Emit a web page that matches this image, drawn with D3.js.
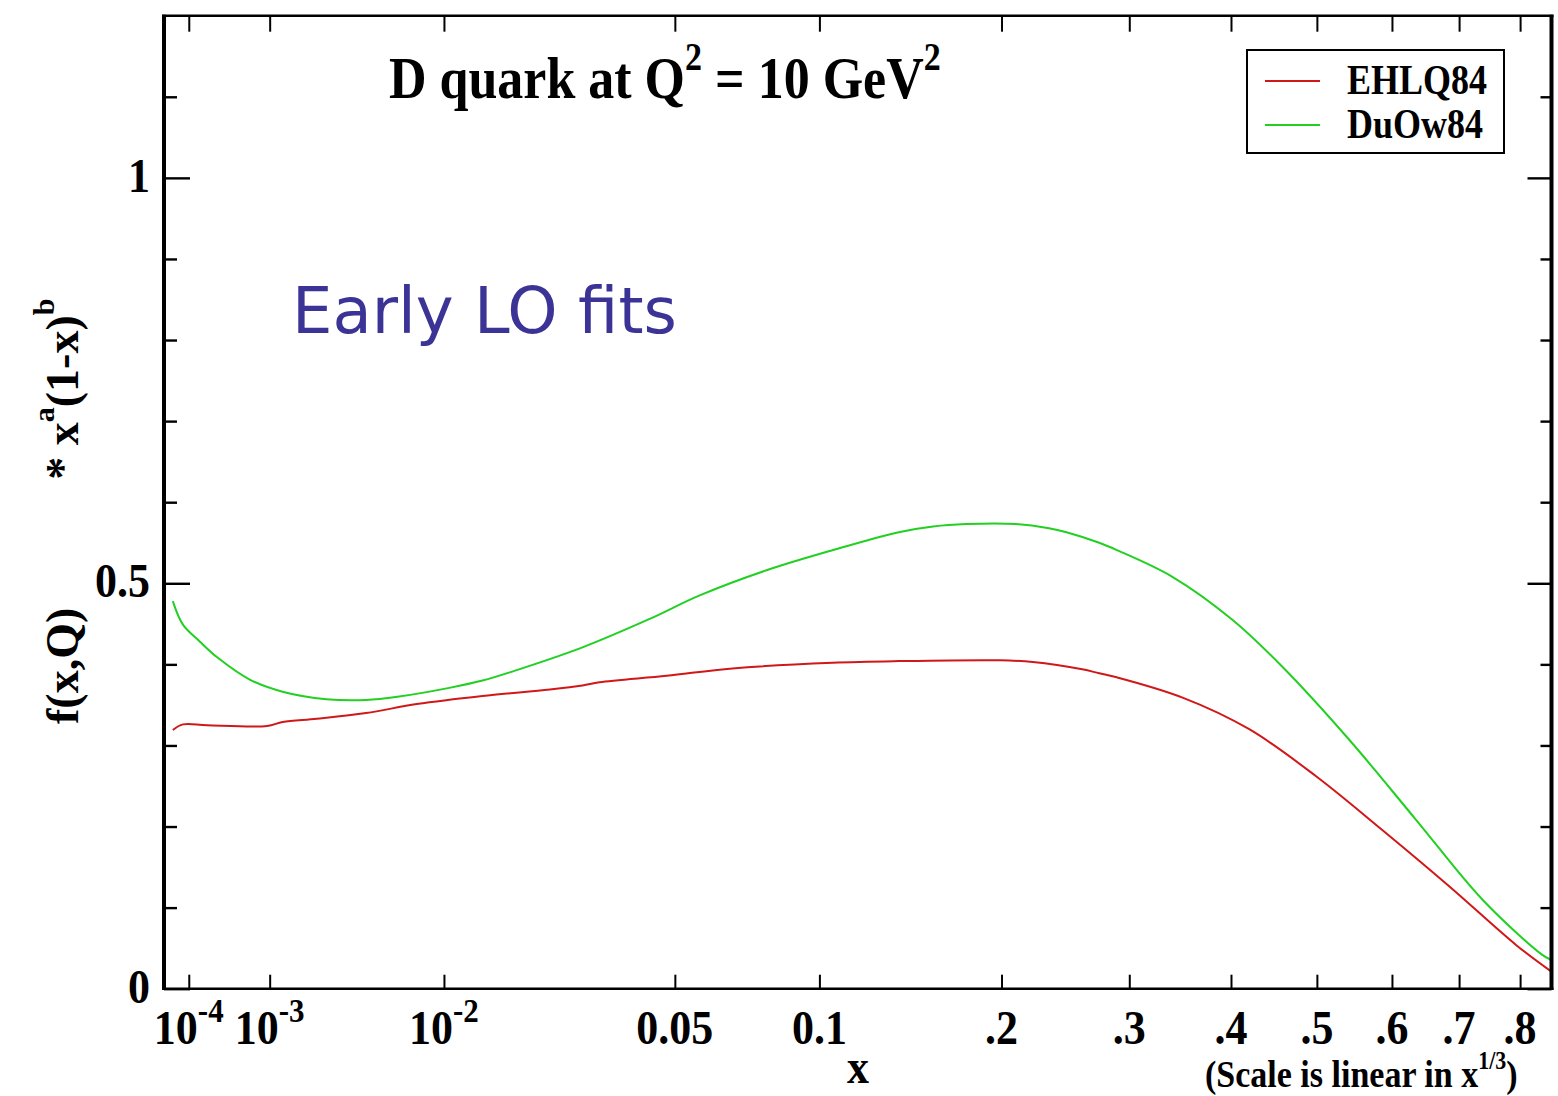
<!DOCTYPE html>
<html>
<head>
<meta charset="utf-8">
<script src="https://cdn.jsdelivr.net/npm/d3@7"></script>
<style>
  html, body { margin: 0; padding: 0; background: #fff; }
  svg { display: block; }
  .serif { font-family: "Liberation Serif", "Times New Roman", serif; font-weight: bold; fill: #000; }
</style>
</head>
<body>
<svg id="chart" width="1558" height="1096"></svg>
<script>
// Parton density x-grid (momentum fraction) and the two LO fits
const xEHLQ = [4.6e-5, 7.7e-5, 2.0e-4, 9.5e-4, 1.28e-3, 2.26e-3, 4.4e-3, 7.7e-3,
  0.014, 0.0233, 0.029, 0.0323, 0.0478, 0.0672, 0.1057, 0.138, 0.199, 0.222, 0.26, 0.274,
  0.289, 0.35, 0.42, 0.499, 0.586, 0.685, 0.793, 0.853];
const yEHLQ = [0.319, 0.326, 0.325, 0.324, 0.329, 0.333, 0.340, 0.351,
  0.361, 0.369, 0.374, 0.378, 0.386, 0.395, 0.402, 0.404, 0.405, 0.403, 0.394, 0.389,
  0.384, 0.359, 0.320, 0.262, 0.196, 0.126, 0.054, 0.022];

const xDuOw = [4.6e-5, 7.7e-5, 1.56e-4, 2.75e-4, 6.6e-4, 1.3e-3, 2.6e-3, 4.4e-3, 6.3e-3, 0.0105,
  0.014, 0.018, 0.029, 0.0435, 0.057, 0.079, 0.106, 0.138, 0.157, 0.177, 0.21, 0.234,
  0.2475, 0.274, 0.289, 0.34, 0.4015, 0.458, 0.5416, 0.635, 0.737, 0.838, 0.853];
const yDuOw = [0.478, 0.449, 0.428, 0.409, 0.381, 0.366, 0.357, 0.356, 0.360, 0.371,
  0.380, 0.392, 0.421, 0.456, 0.485, 0.516, 0.541, 0.563, 0.570, 0.573, 0.573, 0.568,
  0.563, 0.550, 0.541, 0.508, 0.455, 0.397, 0.307, 0.208, 0.110, 0.042, 0.036];

const seriesNames = ["EHLQ84", "DuOw84"];
const seriesColors = ["#d01818", "#22d022"];

// Axis ticks: x is drawn linear in x^(1/3)
const xTickValues = [1e-4, 1e-3, 1e-2, 0.05, 0.1, 0.2, 0.3, 0.4, 0.5, 0.6, 0.7, 0.8];
const xTickLabels = ["10^-4", "10^-3", "10^-2", "0.05", "0.1", ".2", ".3", ".4", ".5", ".6", ".7", ".8"];
const yMajorTicks = [0, 0.5, 1];
const yMajorLabels = ["0", "0.5", "1"];
const yMinorTicks = [0.1, 0.2, 0.3, 0.4, 0.6, 0.7, 0.8, 0.9, 1.1];

const svg = d3.select("#chart");
const L = 164, R = 1551.5, T = 15.7, B = 988.7;

const x = d3.scalePow().exponent(1 / 3).domain([2.7e-5, 0.855]).range([L, R]);
const y = d3.scaleLinear().domain([0, 1.2]).range([B, T]);

// Curves
const line = d3.line()
  .x(d => x(d[0]))
  .y(d => y(d[1]))
  .curve(d3.curveCatmullRom.alpha(0.5));

const curves = [d3.zip(xEHLQ, yEHLQ), d3.zip(xDuOw, yDuOw)];
svg.append("g").selectAll("path")
  .data(curves)
  .join("path")
  .attr("d", line)
  .attr("fill", "none")
  .attr("stroke", (d, i) => seriesColors[i])
  .attr("stroke-width", 2)
  .attr("stroke-linejoin", "round");

// Frame
const frame = svg.append("g").attr("stroke", "#000");
frame.append("line").attr("x1", L - 2).attr("x2", R + 2).attr("y1", T).attr("y2", T).attr("stroke-width", 2.6);
frame.append("line").attr("x1", L - 2).attr("x2", R + 2).attr("y1", B).attr("y2", B).attr("stroke-width", 2.6);
frame.append("line").attr("x1", L).attr("x2", L).attr("y1", T - 1).attr("y2", B + 1).attr("stroke-width", 4);
frame.append("line").attr("x1", R).attr("x2", R).attr("y1", T - 1).attr("y2", B + 1).attr("stroke-width", 4);

// x ticks: bottom and top
const xAxisB = d3.axisBottom(x).tickValues(xTickValues).tickSize(-14).tickFormat("");
const xAxisT = d3.axisTop(x).tickValues(xTickValues).tickSize(-16).tickFormat("");
svg.append("g").attr("transform", `translate(0,${B})`).call(xAxisB)
  .call(g => g.select(".domain").remove())
  .selectAll("line").attr("stroke", "#000").attr("stroke-width", 2);
svg.append("g").attr("transform", `translate(0,${T})`).call(xAxisT)
  .call(g => g.select(".domain").remove())
  .selectAll("line").attr("stroke", "#000").attr("stroke-width", 2);

// y ticks: left and right, major and minor
function yTicks(sideX, dir, values, len) {
  const ax = (dir > 0 ? d3.axisLeft(y) : d3.axisRight(y)).tickValues(values).tickSize(-len).tickFormat("");
  svg.append("g").attr("transform", `translate(${sideX},0)`).call(ax)
    .call(g => g.select(".domain").remove())
    .selectAll("line").attr("stroke", "#000").attr("stroke-width", 2.4);
}
yTicks(L, 1, yMajorTicks, 26);
yTicks(L, 1, yMinorTicks, 13);
yTicks(R, -1, yMajorTicks, 24);
yTicks(R, -1, yMinorTicks, 11);

// x tick labels
const xLab = svg.append("g").attr("class", "serif").attr("font-size", 44).attr("text-anchor", "middle");
xTickValues.forEach((v, i) => {
  const lab = xTickLabels[i];
  const g = xLab.append("g").attr("transform", `translate(${x(v)},${1044}) scale(1,1.12)`);
  const t = g.append("text");
  if (lab.includes("^")) {
    const [b, s] = lab.split("^");
    t.append("tspan").text(b);
    t.append("tspan").attr("dy", -20).attr("font-size", 31).text(s);
  } else {
    t.text(lab);
  }
});

// y tick labels
const yLab = svg.append("g").attr("class", "serif").attr("font-size", 44).attr("text-anchor", "end");
yMajorTicks.forEach((v, i) => {
  yLab.append("g").attr("transform", `translate(${150},${y(v) + 14}) scale(1,1.12)`)
    .append("text").text(yMajorLabels[i]);
});

// Axis titles
svg.append("g").attr("transform", "translate(858,1083) scale(1,1.1)")
  .append("text").attr("class", "serif").attr("font-size", 44).attr("text-anchor", "middle").text("x");

const note = svg.append("g").attr("transform", "translate(1205,1087) scale(1,1.1)")
  .append("text").attr("class", "serif").attr("font-size", 34);
note.append("tspan").text("(Scale is linear in x");
note.append("tspan").attr("dy", -16).attr("font-size", 22).text("1/3");
note.append("tspan").attr("dy", 16).text(")");

const yTitle = svg.append("text").attr("class", "serif").attr("font-size", 46)
  .attr("transform", "translate(78,724) rotate(-90)");
yTitle.append("tspan").text("f(x,Q)");
yTitle.append("tspan").attr("dx", 128).text("* x");
yTitle.append("tspan").attr("dy", -24).attr("font-size", 30).text("a");
yTitle.append("tspan").attr("dy", 24).text("(1-x)");
yTitle.append("tspan").attr("dy", -24).attr("font-size", 30).text("b");

// Title
const title = svg.append("g").attr("transform", "translate(389,98) scale(1,1.15)")
  .append("text").attr("class", "serif").attr("font-size", 52);
title.append("tspan").text("D quark at Q");
title.append("tspan").attr("dy", -24).attr("font-size", 34).text("2");
title.append("tspan").attr("dy", 24).text(" = 10 GeV");
title.append("tspan").attr("dy", -24).attr("font-size", 34).text("2");

// Annotation
svg.append("text").attr("x", 292).attr("y", 333)
  .attr("font-family", "'DejaVu Sans', Verdana, sans-serif").attr("font-size", 64)
  .attr("fill", "#3b3396").text("Early LO fits");

// Legend
const leg = svg.append("g");
leg.append("rect").attr("x", 1247).attr("y", 50).attr("width", 257).attr("height", 103)
  .attr("fill", "#fff").attr("stroke", "#000").attr("stroke-width", 2);
seriesNames.forEach((n, i) => {
  const yy = 81 + i * 44;
  leg.append("line").attr("x1", 1265).attr("x2", 1320).attr("y1", yy).attr("y2", yy)
    .attr("stroke", seriesColors[i]).attr("stroke-width", 2);
  leg.append("g").attr("transform", `translate(1347,${yy + 13}) scale(1,1.2)`)
    .append("text").attr("class", "serif").attr("font-size", 36).text(n);
});
</script>
</body>
</html>
